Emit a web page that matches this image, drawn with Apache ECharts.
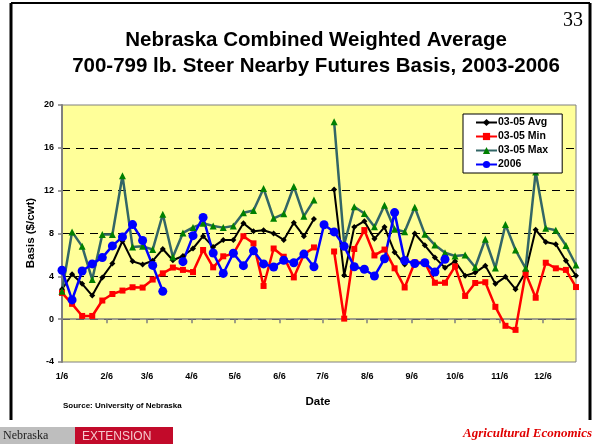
<!DOCTYPE html>
<html>
<head>
<meta charset="utf-8">
<script src="https://cdn.jsdelivr.net/npm/echarts@6/dist/echarts.min.js"></script>
<style>
  html, body { margin: 0; padding: 0; background: #fff; }
  #chart { width: 600px; height: 444px; }
</style>
</head>
<body>
<div id="chart"></div>
<script>
// weekly basis ($/cwt), first week = 1/6, one value per week (null = no quote)
var avg0305 = [2.8, 4.2, 3.3, 2.2, 3.9, 5.2, 7.3, 5.4, 5.1, 5.45, 6.55, 5.5, 5.9, 6.6, 7.75, 6.75, 7.4, 7.4,
  8.95, 8.2, 8.3, 8.0, 7.4, 9.0, 7.75, 9.35, null, 12.1, 4.1, 8.6, 9.15, 7.5, 8.6, 6.25, 5.1, 8.0,
  6.9, 5.75, 4.8, 5.4, 4.05, 4.35, 5.0, 3.3, 3.95, 2.8, 4.4, 8.35, 7.2, 7.0, 5.45, 4.05]
var min0305 = [2.45, 1.43, 0.3, 0.3, 1.74, 2.35, 2.67, 2.98, 2.95, 3.7, 4.28, 4.82, 4.6, 4.4, 6.46, 4.84, 5.87, 6.1,
  7.75, 7.08, 3.1, 6.6, 5.83, 3.9, 6.05, 6.7, null, 6.32, 0.05, 6.55, 8.32, 5.95, 6.5, 4.75, 2.96, 5.3,
  5.3, 3.4, 3.4, 4.93, 2.17, 3.38, 3.45, 1.15, -0.62, -1.0, 4.3, 2.0, 5.27, 4.75, 4.6, 3.0]
var max0305 = [2.6, 8.15, 6.8, 3.7, 7.9, 7.9, 13.4, 6.75, 6.8, 6.5, 9.8, 5.8, 8.05, 8.57, 8.95, 8.7, 8.55, 8.7,
  9.93, 10.15, 12.2, 9.42, 9.84, 12.4, 9.62, 11.12, null, 18.43, 7.0, 10.5, 9.87, 8.62, 10.64, 8.4, 8.16, 10.45,
  7.94, 6.92, 6.2, 5.9, 6.0, 4.85, 7.46, 4.78, 8.83, 6.46, 4.75, 13.75, 8.5, 8.3, 6.88, 5.06]
var basis2006 = [4.57, 1.8, 4.5, 5.16, 5.75, 6.84, 7.68, 8.83, 7.35, 5.02, 2.6, null, 5.37, 7.8, 9.5, 6.18, 4.27, 6.16,
  5.0, 6.38, 5.16, 4.87, 5.5, 5.27, 6.08, 4.9, 8.82, 8.15, 6.8, 4.9, 4.66, 4.03, 5.64, 9.95, 5.48, 5.2,
  5.27, 4.4, 5.6]

// month ticks, as days after 1/6
var tickDays = [0, 31, 59, 90, 120, 151, 181, 212, 243, 273, 304, 334]
var tickLabels = ['1/6', '2/6', '3/6', '4/6', '5/6', '6/6', '7/6', '8/6', '9/6', '10/6', '11/6', '12/6']

var FONT = 'Liberation Sans'

function weekly(vals) {
  return vals.map(function(v, i) {
    return [i * 7, v === null ? '-' : v]
  })
}

var chart = echarts.init(document.getElementById('chart'))
chart.setOption({
  animation: false,
  grid: {
    left: 62, top: 105, right: 24, bottom: 82,
    show: true,
    backgroundColor: '#FFFF99',
    borderColor: '#808080',
    borderWidth: 1
  },
  legend: {
    orient: 'vertical',
    left: 463,
    top: 114,
    padding: [3, 14, 3, 12],
    itemGap: 3,
    itemWidth: 21,
    itemHeight: 9,
    backgroundColor: '#fff',
    borderColor: '#000',
    borderWidth: 1,
    borderRadius: 0,
    textStyle: { fontFamily: FONT, fontWeight: 'bold', fontSize: 10.5, color: '#000', padding: [0, 0, 0, -4] },
    data: ['03-05 Avg', '03-05 Min', '03-05 Max', '2006']
  },
  xAxis: {
    type: 'value',
    min: 0,
    max: 357,
    axisLine: { show: true, lineStyle: { color: '#808080', width: 1.5 } },
    axisTick: { show: true, length: 4, customValues: tickDays, lineStyle: { color: '#808080', width: 1.5 } },
    axisLabel: {
      customValues: tickDays,
      margin: 10,
      fontFamily: FONT, fontWeight: 'bold', fontSize: 9, color: '#000',
      formatter: function(v) { return tickLabels[tickDays.indexOf(v)] }
    },
    splitLine: { show: false }
  },
  yAxis: {
    type: 'value',
    min: -4,
    max: 20,
    interval: 4,
    axisLine: { show: true, lineStyle: { color: '#808080', width: 2 } },
    axisTick: { show: true, length: 4, lineStyle: { color: '#808080', width: 1.5 } },
    axisLabel: { margin: 8, fontFamily: FONT, fontWeight: 'bold', fontSize: 9, color: '#000' },
    splitLine: {
      show: true,
      showMinLine: false,
      showMaxLine: false,
      lineStyle: { color: '#000', type: [8, 6], width: 1 }
    }
  },
  series: [
    {
      name: '03-05 Avg', type: 'line', data: weekly(avg0305),
      symbol: 'diamond', symbolSize: 6,
      itemStyle: { color: '#000' }, lineStyle: { color: '#000', width: 2 }
    },
    {
      name: '03-05 Min', type: 'line', data: weekly(min0305),
      symbol: 'rect', symbolSize: 6,
      itemStyle: { color: '#FF0000' }, lineStyle: { color: '#FF0000', width: 2.5 }
    },
    {
      name: '03-05 Max', type: 'line', data: weekly(max0305),
      symbol: 'triangle', symbolSize: 7,
      itemStyle: { color: '#008000' }, lineStyle: { color: '#336666', width: 2.5 }
    },
    {
      name: '2006', type: 'line', data: weekly(basis2006),
      symbol: 'circle', symbolSize: 9,
      itemStyle: { color: '#0000FF' }, lineStyle: { color: '#0000FF', width: 2.5 }
    }
  ],
  graphic: [
    // slide frame
    { type: 'line', shape: { x1: 11, y1: 3, x2: 590, y2: 3 }, style: { stroke: '#000', lineWidth: 2 } },
    { type: 'line', shape: { x1: 11, y1: 3, x2: 11, y2: 420 }, style: { stroke: '#000', lineWidth: 3 } },
    { type: 'line', shape: { x1: 590, y1: 3, x2: 590, y2: 420 }, style: { stroke: '#000', lineWidth: 3 } },
    {
      type: 'text', x: 583, y: 21,
      style: { text: '33', font: '20px "Liberation Serif"', fill: '#000', textAlign: 'right', textVerticalAlign: 'middle' }
    },
    {
      type: 'text', x: 316, y: 40,
      style: { text: 'Nebraska Combined Weighted Average', font: 'bold 20.5px "Liberation Sans"', fill: '#000', textAlign: 'center', textVerticalAlign: 'middle' }
    },
    {
      type: 'text', x: 316, y: 66,
      style: { text: '700-799 lb. Steer Nearby Futures Basis, 2003-2006', font: 'bold 20.5px "Liberation Sans"', fill: '#000', textAlign: 'center', textVerticalAlign: 'middle' }
    },
    {
      type: 'text', x: 31, y: 233, rotation: Math.PI / 2,
      style: { text: 'Basis ($/cwt)', font: 'bold 11.5px "Liberation Sans"', fill: '#000', textAlign: 'center', textVerticalAlign: 'middle' }
    },
    {
      type: 'text', x: 318, y: 402,
      style: { text: 'Date', font: 'bold 11.5px "Liberation Sans"', fill: '#000', textAlign: 'center', textVerticalAlign: 'middle' }
    },
    {
      type: 'text', x: 63, y: 406,
      style: { text: 'Source: University of Nebraska', font: 'bold 8px "Liberation Sans"', fill: '#000', textAlign: 'left', textVerticalAlign: 'middle' }
    },
    // footer logo
    { type: 'rect', shape: { x: 0, y: 427, width: 75, height: 17 }, style: { fill: '#BEBEBE' } },
    {
      type: 'text', x: 3, y: 436,
      style: { text: 'Nebraska', font: '12px "Liberation Serif"', fill: '#222', textAlign: 'left', textVerticalAlign: 'middle' }
    },
    { type: 'rect', shape: { x: 75, y: 427, width: 98, height: 17 }, style: { fill: '#C20A2A' } },
    {
      type: 'text', x: 82, y: 437,
      style: { text: 'EXTENSION', font: '12px "Liberation Sans"', fill: '#F6C8CC', textAlign: 'left', textVerticalAlign: 'middle' }
    },
    {
      type: 'text', x: 592, y: 434,
      style: { text: 'Agricultural Economics', font: 'italic bold 13px "Liberation Serif"', fill: '#E00000', textAlign: 'right', textVerticalAlign: 'middle' }
    }
  ]
})
</script>
</body>
</html>
